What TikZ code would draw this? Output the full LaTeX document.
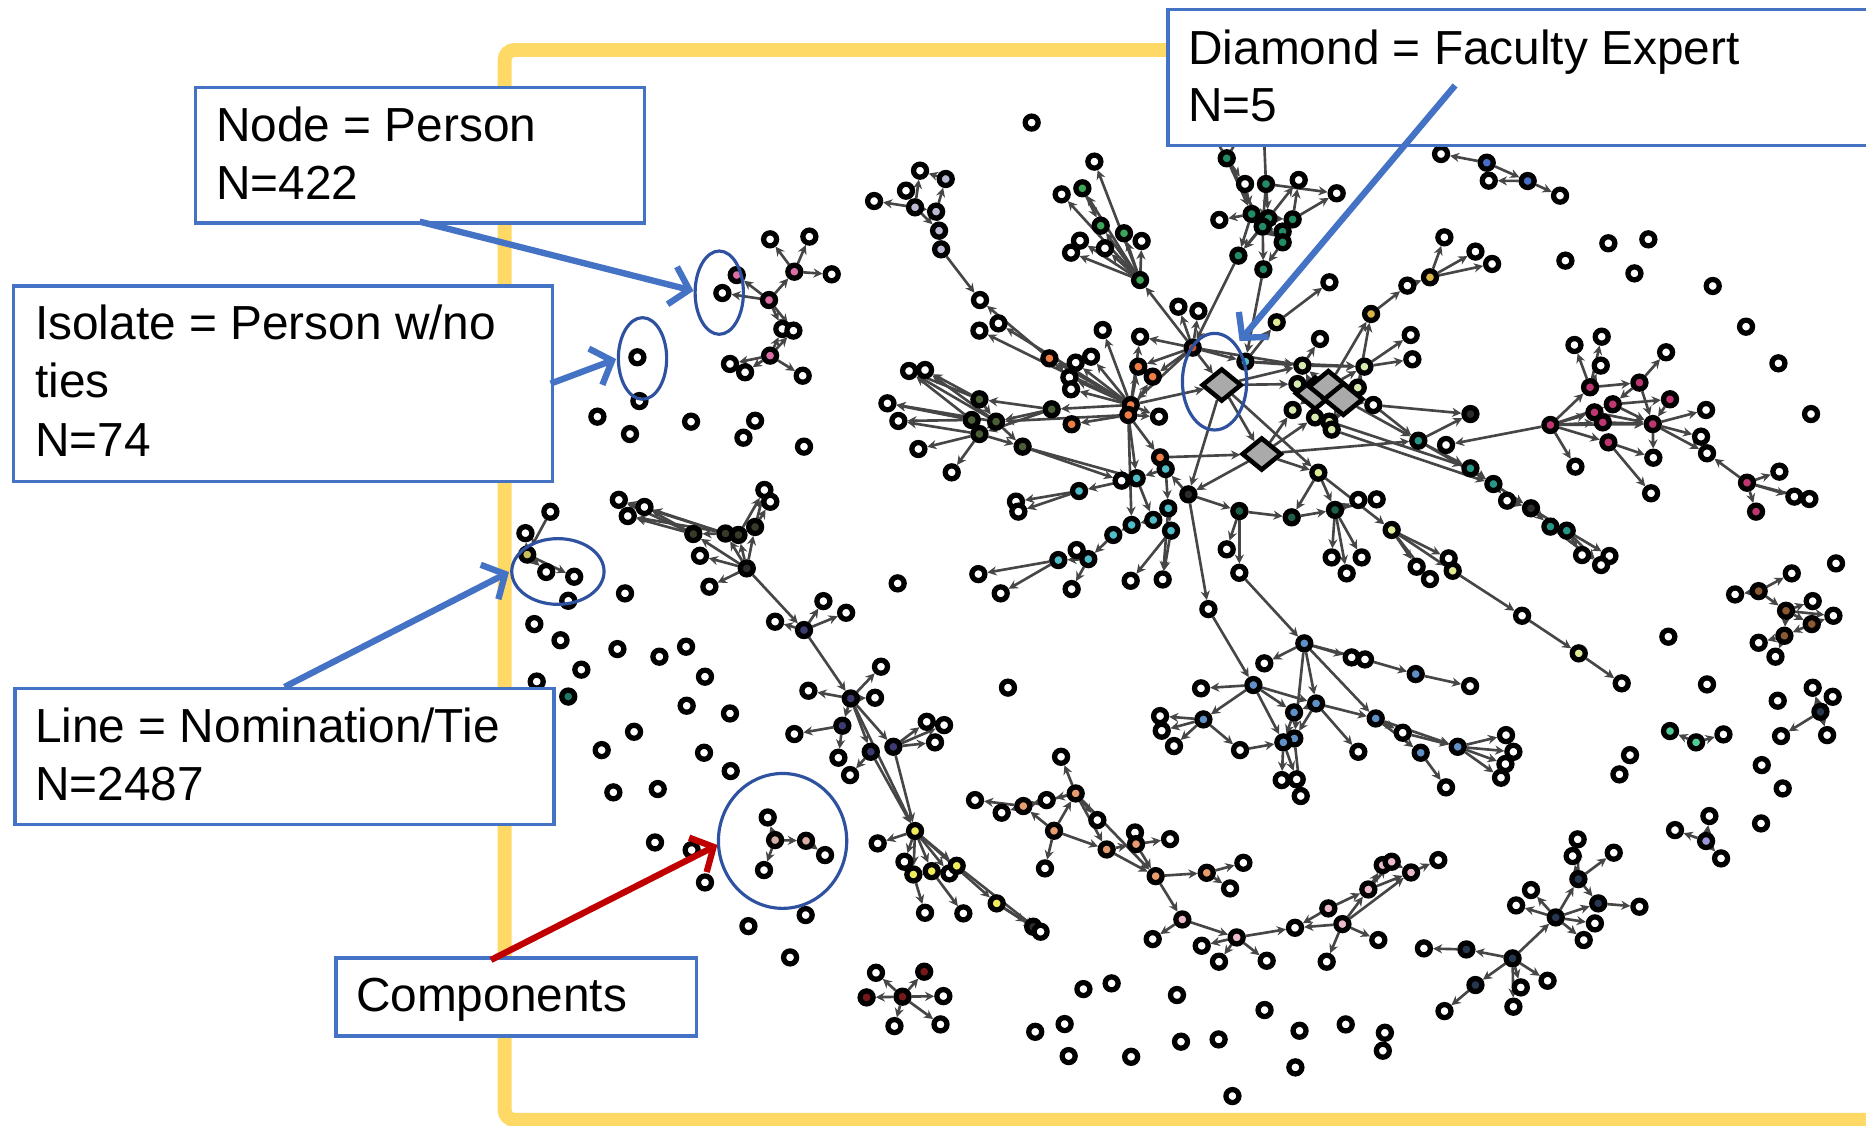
\documentclass[tikz,border=0pt]{standalone}
\usepackage{fontspec}
\setmainfont{Liberation Sans}
\usetikzlibrary{arrows.meta,shapes.geometric}
\pgfdeclarelayer{ties}
\pgfsetlayers{ties,main}
\definecolor{frameyellow}{RGB}{255,217,102}
\definecolor{boxblue}{RGB}{68,114,196}
\definecolor{ringblue}{RGB}{47,82,160}
\definecolor{arrowred}{RGB}{192,0,0}
\definecolor{edgegray}{RGB}{70,70,70}
\definecolor{diagray}{RGB}{170,170,170}
\definecolor{cPink}{RGB}{220,110,165}
\definecolor{cLav}{RGB}{185,185,210}
\definecolor{cOlive}{RGB}{75,95,55}
\definecolor{cGreen}{RGB}{60,165,90}
\definecolor{cTealG}{RGB}{35,140,100}
\definecolor{cOrRed}{RGB}{210,80,45}
\definecolor{cOrange}{RGB}{238,125,70}
\definecolor{cCyan}{RGB}{80,190,200}
\definecolor{cLGreen}{RGB}{215,235,175}
\definecolor{cMustard}{RGB}{215,180,70}
\definecolor{cLYellow}{RGB}{225,235,150}
\definecolor{cDGreen}{RGB}{30,95,75}
\definecolor{cBlue}{RGB}{70,110,200}
\definecolor{cMag}{RGB}{190,55,115}
\definecolor{cTeal}{RGB}{40,150,135}
\definecolor{cNavy}{RGB}{60,60,115}
\definecolor{cNavyB}{RGB}{40,55,80}
\definecolor{cSteel}{RGB}{95,145,200}
\definecolor{cLOrange}{RGB}{232,155,110}
\definecolor{cLPink}{RGB}{235,185,200}
\definecolor{cDRed}{RGB}{120,25,25}
\definecolor{cBrown}{RGB}{140,90,50}
\definecolor{cMint}{RGB}{80,205,150}
\definecolor{cLilac}{RGB}{155,150,215}
\definecolor{cYellow}{RGB}{240,235,90}
\definecolor{cTan}{RGB}{215,175,165}
\definecolor{cDark}{RGB}{45,45,45}
\definecolor{cDOlive}{RGB}{55,60,40}
\definecolor{cKhaki}{RGB}{200,190,90}
\definecolor{cDTeal}{RGB}{30,120,100}
\begin{document}
\begin{tikzpicture}[x=0.0119cm, y=-0.0119cm,
  pnode/.style={circle, draw=black, line width=1.5pt, inner sep=0pt, minimum size=0.13cm},
  dia/.style={diamond, draw=black, line width=1.3pt, fill=diagray, inner sep=0pt, minimum width=0.4cm, minimum height=0.33cm},
  tieline/.style={draw=edgegray, line width=0.75pt, -{Stealth[length=2.6pt,width=2.6pt]}},
  plainline/.style={draw=edgegray, line width=0.75pt},
  ring/.style={ellipse, draw=ringblue, line width=0.9pt, inner sep=0pt},
  lbox/.style={draw=boxblue, line width=1pt, fill=white, inner sep=0pt, anchor=north west},
  lbl/.style={anchor=base west, inner sep=0pt, font=\fontsize{13.6}{16}\selectfont},
  pointer/.style={line width=1.8pt, -{Straight Barb[length=5pt,width=11pt]}},
  yframe/.style={draw=frameyellow, line width=0.14cm, rounded corners=0.1cm}
]
\useasboundingbox (0,0) rectangle (1568,946);
\clip (0,0) rectangle (1568,946);

% ---------- persons (nodes) ----------
% left components
\foreach \n/\x/\y/\c in {p1/619.1/231.1/cPink, p2/646.2/252.1/cPink, p3/667.5/228.3/cPink, p4/647.1/298.8/cPink,
  pa/647.1/201.1/white, pb/680.1/198.8/white, pc/698.9/230.5/white, pd/607.0/246.2/white, pe/657.4/276.4/white,
  pf/666.7/277.8/white, pg/613.4/305.8/white, ph/626.1/312.8/white, pj/674.5/315.7/white,
  lk0/443/466/cKhaki, la/462.5/430/white, lb/441.5/448/white, lc/459/480.6/white, ld/482.5/484.6/white,
  dwa/520/420/white, dwb/541.5/426/white, dwc/527.5/433.6/white, dwd/642.3/411.7/white, dwe/647.3/421.6/white,
  dk1/582.6/448.7/cDOlive, dk2/609.6/448.3/cDOlive, dk3/620.5/449.5/cDOlive, dk4/634.5/442.8/cDOlive,
  dk5/627.5/477.6/cDark, dwf/588.2/467/white, dwg/596.1/493/white,
  n1/675.6/529.4/cNavy, na/691.9/505.1/white, nb/711/514.9/white, nc/651.3/522.4/white,
  n2/714.9/586.9/cNavy, nd/740.3/560.2/white, ne/679.3/580.4/white, nf/735.3/586.3/white,
  n3/707.8/609.8/cNavy, ng/667.5/616.8/white, nh/704.5/636.7/white,
  n4/731.7/631.7/cNavy, n5/750.7/627.5/cNavy, ni/778.7/606.5/white, nj/793.3/609.3/white, nk/785.7/623.8/white, nl/714.3/651.3/white,
  y1/768.9/698.3/cYellow, ya/737.5/708.7/white, yb/760/724.1/white, y2/767.5/734.8/cYellow, y3/782.9/732/cYellow,
  yc/797.8/733.9/white, y4/803.9/727.5/cYellow, y5/837.5/759.1/cYellow, yd/777.3/767/white, ye/809.5/767.5/white,
  yf/868.2/778.7/cDark, yg/874.4/782.9/white,
  cwa/645.1/686.9/white, cc1/651.3/705.9/cTan, cc2/677.3/706.5/cTan, cwb/693.3/718.5/white, cwc/642/731.1/white,
  dra/736.1/817.4/white, dr1/776.6/816.5/cDRed, dr2/728.2/838.1/cDRed, drh/758.4/837.5/cDRed,
  drb/792.7/837/white, drc/751.6/862.2/white, drd/790.3/860.8/white}
  \node[pnode, fill=\c] (\n) at (\x,\y) {};

% central component: left side
\foreach \n/\x/\y/\c in {lva/773.1/143.4/white, lv1/794.7/150.4/cLav, lvb/761.3/160.2/white, lvc/734.5/168.9/white,
  lv2/768.9/174.2/cLav, lv3/786.6/177.8/cLav, lv4/789.1/193.8/cLav, lv5/790.8/209.5/cLav,
  lvd/823.5/252.1/white, lve/839/271.7/white, lvf/823/277.8/white,
  ola/763.9/311.7/white, olb/777.3/310.9/white, olc/745.7/338.9/white, old/754.9/353.7/white, ole/771.7/377.3/white, olf/799.7/396.9/white,
  ol1/823/335.5/cOlive, ol2/816.5/352.9/cOlive, ol3/837/354.3/cOlive, ol4/823/364.7/cOlive, ol5/883.7/343.9/cOlive, ol6/859.3/375.3/cOlive,
  gwa/919.6/135.8/white, g1/909.5/158.2/cGreen, gwb/892.1/163.3/white, g2/924.9/189.6/cGreen, g3/944.5/196/cGreen,
  gwc/907.5/202.2/white, gwd/900/212.3/white, gwe/928.5/208.6/white, gwf/959.3/202.5/white, h1/958/235.3/cGreen,
  tg1/1030.8/133/cTealG, tga/1046.2/154.6/white, tg2/1063.8/154.6/cTealG, tgb/1091.3/151.2/white, tgc/1123.2/162.4/white,
  tgd/1024.6/184.8/white, tg3/1051.8/179.8/cTealG, tg4/1065.8/183.4/cTealG, tg5/1086.2/184.3/cTealG, tg6/1061/190.4/cTealG,
  tg7/1077.8/194.6/cTealG, tg8/1077.8/203.6/cTealG, tg9/1040.6/214.8/cTealG, tg10/1061.6/226.3/cTealG,
  O/1002.2/292.1/cOrRed, owa/990.2/257.7/white, owb/1007/261.3/white, owc/926.6/277.3/white, owd/958/282.9/white,
  or1/881.8/301.1/cOrange, owe/903.9/304.7/white, owf/916.8/299.7/white, or2/956.5/308.1/cOrange, or3/968.6/316.5/cOrange,
  owg/898.6/317.1/white, owh/900/327.1/white, te1/1046.5/303.9/cCyan, o2a/950.1/340.3/cOrange, o2b/948.1/348.7/cOrange,
  or4/900.5/356.5/cOrange, owi/973.9/350.1/white, or5/974.8/384.3/cOrange}
  \node[pnode, fill=\c] (\n) at (\x,\y) {};

% central component: right side
\foreach \n/\x/\y/\c in {lg1/1094.4/307.2/cLGreen, lg2/1146.5/308.1/cLGreen, lg3/1090.2/322.7/cLGreen, lg4/1140.9/325.7/cLGreen,
  lgw/1154/340.3/white, lg5/1086.2/344.5/cLGreen, lg6/1105/350.7/cLGreen, lg7/1117/354.3/cLGreen, lg8/1119/361/cLGreen,
  ly1/1072.8/270.8/cLYellow, lyw/1117.1/237.2/white, ye1/1152.1/263.8/cMustard, yw1/1182.6/240/white, ye2/1201.6/233/cMustard,
  yw2/1109.2/284.8/white, yw3/1185.4/281.5/white, yw4/1186.8/301.9/white,
  ryw1/1213.7/199.4/white, ryw2/1239.8/211.4/white, ryw3/1253.8/221.8/white,
  tr1/1191.8/370.3/cTeal, trw/1215.1/373.9/white, blk/1235.6/347.9/cDark, tca/1235.6/393.5/cTeal, tcb/1254.9/406.7/cTeal,
  tcw/1266.4/420.7/white, tcd/1286.5/427.1/cDark, tcc/1302.8/442.5/cTeal, tce/1316.5/445.9/cTeal,
  tcw2/1329.4/466.4/white, tcw3/1352.4/467.2/white, tcw4/1345.4/474.8/white,
  ly2/1107.8/397.2/cLYellow, ly3/1169.4/445.3/cLYellow, lyw2/1217.3/469.2/white, ly4/1220.7/479.6/cLYellow,
  lyw3/1279/517.4/white, ly5/1326.6/549/cLYellow, lyw4/1362.7/574.2/white,
  dk0/998.6/415.4/cDark, dg1/1041.4/429.4/cDGreen, dg2/1085.4/434.7/cDGreen, dg3/1121.8/428.5/cDGreen,
  dgwa/1141.4/420.1/white, dgwb/1156.8/419.6/white, dgwc/1030.8/461.6/white, dgwd/1041.4/481.3/white,
  dgwe/1119/468.4/white, dgwf/1131.6/481.8/white, dgwg/1144.2/468.4/white, dgwh/1190.4/476.2/white, dgwi/1201.6/486.6/white,
  tc1/979.5/394.1/cCyan, tw1/942.5/403.9/white, tc0/955.1/401.9/cCyan, tc2/906.7/412.6/cCyan,
  twa/853.7/421.5/white, twb/855.7/429.9/white, tc3/981.7/427.1/cCyan, tc4/969.1/436.9/cCyan, tc5/950.9/441.1/cCyan,
  tc6/984/445.9/cCyan, tc7/935.5/449.5/cCyan, tc8/889.3/470.6/cCyan, tc9/914.5/469.8/cCyan,
  tcwa/904.7/462.2/white, tcwb/900.5/495/white, tcwc/950.1/488/white, tcwd/977/486.9/white, tcwe/822.1/482.4/white, tcwf/840.9/498.6/white}
  \node[pnode, fill=\c] (\n) at (\x,\y) {};

% lower components
\foreach \n/\x/\y/\c in {bw0/1015.4/511.8/white, bl1/1053.2/575.6/cSteel, bl2/1096/540.6/cSteel, bwa/1062.4/557.4/white,
  bwb/1135.8/552.4/white, bwc/1147/554.1/white, bl3/1189.6/566.4/cSteel, bwd/1235.3/576.5/white, bwe/1009.2/578.4/white,
  bl4/1105.9/591.1/cSteel, bl5/1087.4/598.6/cSteel, bl6/1011.2/604.5/cSteel, bwf/974.8/601.7/white, bwg/976.2/614/white,
  bwh/986.5/626.9/white, bwi/1042/630.3/white, bl7/1087.6/620.5/cSteel, bl8/1078.4/623.8/cSteel, bwj/1141.4/631.7/white,
  bl9/1156/603.7/cSteel, bwk/1178.7/615.7/white, bl10/1193.8/632.5/cSteel, bwl/1077/655.5/white, bwm/1089.6/654.9/white,
  bwn/1093/668.9/white, bl11/1224.9/627.5/cSteel, bwo/1265.5/617.7/white, bwp/1271.7/631.7/white, bwq/1265/642/white,
  bwr/1261.3/653.5/white, bws/1215.1/661.6/white,
  lwa/819.3/672.3/white, lwb/841.7/682.9/white, lo1/859.9/677.3/cLOrange, lwc/879.5/672.3/white, lwd/891.6/635.9/white,
  lo2/903.9/666.7/cLOrange, lo3/885.7/698.1/cLOrange, lwe/878.1/729.7/white, lwf/922.1/689.1/white, lo4/929.9/713.8/cLOrange,
  lwg/953.7/699.5/white, lo5/954.6/709.3/cLOrange, lwh/983.2/705.1/white, lo6/971.1/736.2/cLOrange, lo7/1014/733.4/cLOrange,
  lwi/1044.8/725/white, lwj/1033.6/746.5/white,
  pk1/993.5/772.6/cLPink, pka/968.6/789.1/white, pk2/1039.2/787.7/cLPink, pkb/1009.8/794.7/white, pkc/1024.3/808.1/white,
  pkd/1064.4/807.3/white, pke/1088.2/779.6/white, pk3/1116.2/763.3/cLPink, pk4/1128/776.5/cLPink, pkf/1114.8/808.1/white,
  pkg/1158.2/789.9/white, pk5/1149.8/747.4/cLPink, pk6/1161.9/726.9/cLPink, pk7/1169.4/724.1/cLPink, pk8/1185.7/733.1/cLPink,
  pkh/1208.6/722.7/white,
  nwa/1196.5/796.9/white, nv1/1232.2/797.8/cNavyB, nv2/1271/805.3/cNavyB, nv3/1239.8/827.7/cNavyB, nwb/1213.8/849.6/white,
  nwc/1277.9/829.7/white, nwd/1300.4/824.1/white, nwe/1271.7/845.9/white, nv4/1307.3/770.9/cNavyB, nwf/1274/760.8/white,
  nwg/1340.2/775.9/white, nwh/1330.8/789.9/white, nv5/1343/759.1/cNavyB, nwi/1377.6/761.9/white, nv6/1326.3/738.7/cNavyB,
  nwj/1321.5/719.3/white, nwk/1325.7/705.3/white, nwl/1356/716.5/white, nwm/1286.5/747.9/white}
  \node[pnode, fill=\c] (\n) at (\x,\y) {};

% right-hand components
\foreach \n/\x/\y/\c in {mwa/1323/289.9/white, mwb/1345.9/282.9/white, mwc/1345.1/307.2/white, mwd/1400/296/white,
  mg1/1336.1/325.4/cMag, mg2/1377.6/321.5/cMag, mg3/1403.3/335.5/cMag, mg4/1355.2/339.7/cMag, mg5/1339.8/346.5/cMag,
  mg6/1346.8/354.9/cMag, mgh/1302.8/357.1/cMag, mg7/1388.8/356.3/cMag, mwe/1433.6/344.5/white, mwf/1429.4/366.9/white,
  mwg/1434.4/380.9/white, mg8/1351.5/371.7/cMag, mwh/1323.8/392.1/white, mwi/1389.3/384.6/white, mwj/1387.4/414.5/white,
  mg9/1468/405.6/cMag, mwk/1495.2/396.3/white, mwl/1507.8/417.3/white, mwm/1520.4/419.3/white, mg10/1475.6/429.9/cMag,
  bsa/1210.9/129.4/white, bs1/1249.3/136.7/cBlue, bsb/1251/151.8/white, bs2/1283.7/152.1/cBlue, bsc/1310.9/164.4/white,
  br1/1477.8/496.7/cBrown, bra/1505.6/481.8/white, brb/1458/499.5/white, br2/1500.8/513.2/cBrown, brc/1523.2/505.1/white,
  br3/1522.4/524.4/cBrown, brd/1540.6/517.4/white, br4/1499.4/534.2/cBrown, bre/1477.8/540.1/white, brf/1491.9/551.8/white,
  ns1/1529.7/598.1/cNavyB, nsa/1523.2/577.9/white, nsb/1540/585.5/white, nsc/1496.6/618.5/white, nsd/1535.3/617.7/white,
  mt1/1403.3/614.3/cMint, mt2/1425.2/623.8/cMint, mtw/1448.2/617.1/white,
  lil/1433.6/706.7/cLilac, lila/1436.4/685.7/white, lilb/1407.5/697.5/white, lilc/1446.2/721.3/white}
  \node[pnode, fill=\c] (\n) at (\x,\y) {};

% faculty experts
\node[dia] (d1) at (1026.6,323.5) {};
\node[dia] (d2) at (1060.2,381.5) {};
\node[dia] (d3) at (1105,330.5) {};
\node[dia] (d4) at (1116.2,324.9) {};
\node[dia] (d5) at (1128.8,335.5) {};

% isolates
\foreach \x/\y [count=\i] in {535.6/300.2, 537.3/337.0, 502/350.1, 529.4/364.7, 580.7/354.3, 634.5/353.5, 624.7/367.8,
  675.6/375.3, 477.5/504.8, 525.2/498.6, 449/524.4, 471/538, 518.8/545.4, 554.1/551.8, 576.5/543.4, 488.5/562.7,
  451/572.7, 592.4/568.6, 577/593, 613.4/599.5, 532.8/614.9, 505.6/630.3, 591.6/632.5, 614/647.9, 515.4/665.8,
  552.7/663, 550.4/707.9, 581.2/714.3, 592.4/741.5, 677/768.9, 628.9/778.2, 663.9/804.5, 754.3/490.2, 866.9/103,
  847/577.8, 1315.4/219, 1351.5/204.4, 1385.1/201.1, 1373.4/229.7, 1439.2/240.3, 1467.2/274.5, 1494.4/305.3,
  1521.8/347.9, 1542.8/473.4, 1401.9/535, 1434.4/575.1, 1493.8/588.8, 1369.7/634.5, 1360.8/650.7, 1480.4/642.9,
  1498/662.5, 1479.8/691.9, 910.4/831.1, 934.1/826.3, 989/836.1, 869.9/867, 894.6/860.5, 898/887.4, 950.5/888,
  992.4/875.3, 1024/873.4, 1062.6/848.7, 1092/866.1, 1130.8/860.8, 1163.7/867.8, 1162/882.9, 1088.5/896.9, 1035.6/921}
  \node[pnode, fill=white] (iso\i) at (\x,\y) {};
\node[pnode, fill=cDTeal] (isoT) at (477.5,585.3) {};

% ends of ties running under the label box
\coordinate (tgu1) at (1016,108);
\coordinate (tgu2) at (1044,110);
\coordinate (tgu3) at (1062,112);

% ---------- frame and ties (drawn beneath the persons) ----------
\begin{pgfonlayer}{ties}
\draw[yframe] (1640,42) -- (424,42) -- (424,941) -- (1640,941);

\foreach \a/\b in {p2/p1, p2/pd, p2/p3, p2/pe, p2/pf, p4/pe, p4/pf, p3/pa, p3/pb, p3/pc, p4/pg, p4/ph, p4/pj,
  la/lk0, lk0/lb, lk0/lc, lk0/ld,
  dk1/dwa, dk1/dwb, dk1/dwc, dk2/dwa, dk2/dwb, dk3/dwc, dk4/dwd, dk4/dwe, dk3/dwd, dk2/dk1, dk3/dk2, dk4/dk3,
  dk5/dk2, dk5/dk3, dk5/dk4, dk5/dwf, dk5/dwg, dk5/dk1,
  dk5/n1, n1/na, n1/nb, n1/nc, n1/n2, n2/nd, n2/ne, n2/nf, n2/n3, n3/ng, n3/nh, n2/n4, n2/n5, n5/ni, n5/nj, n5/nk,
  n4/nl, n4/y1, n5/y1, n2/y1,
  y1/ya, y1/yb, y1/y2, y1/y3, y1/yc, y1/y4, y1/y5, y2/yd, y3/ye, y5/yf, y5/yg, y4/yg,
  cc1/cwa, cc1/cc2, cc2/cwb, cc1/cwc,
  drh/dra, drh/dr1, drh/dr2, drh/drb, drh/drc, drh/drd}
  \draw[tieline] (\a) -- (\b);

\foreach \a/\b in {lv2/lva, lv2/lvb, lv2/lvc, lv1/lva, lv3/lv1, lv2/lv3, lv2/lv4, lv3/lv4, lv4/lv5, lv5/lvd, or1/lvd, o2a/lve, o2a/lvf,
  ol1/ola, ol1/olb, ol2/olc, ol2/old, ol4/ole, ol4/olf, ol3/ola, ol3/olb, ol2/ola, ol1/ol2, ol2/ol4, ol3/ol4, ol1/ol3,
  ol5/ol1, ol5/ol3, ol5/ol4, ol3/ol6, ol4/ol6, o2a/ol5, o2b/ol3, ol6/tw1, ol6/tc0, ol3/olc, ol4/old,
  h1/gwa, h1/g1, h1/gwb, h1/g2, h1/g3, h1/gwc, h1/gwd, h1/gwe, h1/gwf, g1/g2, O/h1,
  tg1/tg3, tg1/tg6, tg1/tga, tg2/tg4, tg2/tg6, tga/tg3, tg3/tg4, tg4/tg5, tg5/tgb, tg5/tgc, tg4/tgb, tg3/tgd, tg6/tg7,
  tg7/tg8, tg4/tg7, tg6/tg9, tg3/tg9, tg4/tg9, tg8/tg10, tg6/tg10, tg9/O, tg10/te1, tg6/tg8, tg2/tgc,
  O/owa, O/owb, O/or2, O/or3, O/te1, O/o2a, O/lg1, O/owd, O/d1,
  o2a/or1, o2a/owe, o2a/owf, o2a/owg, o2a/owh, o2b/or4, o2a/owc, o2a/owd, o2a/or2, o2b/or3, o2a/owi, o2b/owi,
  o2a/d1, o2b/or5, o2a/o2b, or1/owg, or5/tc1, o2b/tc0, or5/d2}
  \draw[tieline] (\a) -- (\b);

\foreach \a/\b in {te1/ly1, ly1/lyw, lg4/ye1, d4/ye1, ye1/yw1, yw1/ye2, ye2/ryw1, ye2/ryw2, ye2/ryw3,
  lg1/yw2, lg2/yw3, lg2/yw4, d4/lg2, d3/lg1, d4/lg1, lg3/d3, lg4/d5, d5/lgw, d3/lg5, d3/lg6, d5/lg7, lg1/lg2,
  d1/lg3, te1/lg1, te1/lg2, lg4/lg2, d5/lg8, d1/lg1, d1/d2, d2/lg5, d2/lg6,
  d5/tr1, lgw/tr1, d2/tr1, mgh/trw, tr1/blk, lgw/blk, tr1/tca, lg7/tca, tca/tcb, tr1/tcb, tcb/tcw, tcw/tcd, tcb/tcd,
  tcd/tcc, tcd/tce, tcc/tce, tce/tcw2, tce/tcw3, tcc/tcw4, tce/tcw4, lg8/tcb,
  d2/ly2, d1/ly2, ly2/ly3, ly3/lyw2, ly3/ly4, ly4/lyw3, lyw3/ly5, ly5/lyw4,
  dk0/dg1, dg1/dg2, dg2/dg3, dg3/dgwa, dg3/dgwb, dg1/dgwc, dg1/dgwd, dg3/dgwe, dg3/dgwf, dg3/dgwg,
  ly2/dg2, ly2/dg3, ly3/dgwh, ly3/dgwi, d1/dk0, d2/dk0, dk0/bw0, dk0/tc1,
  tc1/tc0, tc0/tw1, tc0/tc2, tc2/twa, tc2/twb, tc1/tc3, tc3/tc4, tc4/tc5, tc3/tc6, tc5/tc7, tc7/tc9, tc9/tcwa,
  tc9/tc8, tc8/tcwe, tc8/tcwf, tc9/tcwb, tc6/tcwc, tc6/tcwd, tc3/tcwd, tc0/tc4, o2b/tc5}
  \draw[tieline] (\a) -- (\b);

\foreach \a/\b in {bw0/bl1, dgwd/bl2, bl2/bwa, bl2/bwb, bl2/bwc, bwc/bl3, bl3/bwd, bl2/bl4, bl2/bl7, bl2/bl9,
  bl1/bwe, bl1/bl6, bl1/bl4, bl1/bl5, bl1/bl8, bl6/bwf, bl6/bwg, bl6/bwh, bl6/bwi, bwi/bl8, bl4/bl5, bl4/bl7,
  bl5/bl8, bl4/bwj, bl4/bl9, bl9/bwk, bwk/bl11, bl9/bl11, bl11/bwo, bl11/bwp, bl11/bwq, bl11/bwr, bl9/bl10,
  bl10/bws, bl8/bwl, bl8/bwm, bl7/bwn,
  lo1/lwa, lo1/lwb, lo1/lwc, lo2/lwc, lo2/lwd, lo2/lo1, lo3/lo1, lo3/lo2, lo3/lwe, lo2/lwf, lo2/lo4, lo3/lo4,
  lo4/lo5, lo5/lwg, lo5/lwh, lo2/lo6, lo4/lo6, lo5/lo6, lo6/lo7, lo7/lwi, lo7/lwj, lo6/pk1,
  pk1/pka, pk1/pk2, pk2/pkb, pk2/pkc, pk2/pkd, pk2/pke, pk4/pke, pk3/pke, pk3/pk5, pk4/pk5, pk4/pkf, pk4/pkg,
  pk5/pk6, pk5/pk7, pk5/pk8, pk8/pkh, pk7/pk8, pk4/pk8,
  nv1/nwa, nv2/nv1, nv2/nv3, nv3/nwb, nv2/nwc, nv2/nwd, nv2/nwe, nv2/nv4, nv4/nwf, nv4/nwm, nv4/nwg, nv4/nwh,
  nv4/nv5, nv5/nwi, nv4/nv6, nv6/nwj, nv6/nwl, nv6/nv5, nv6/nwk,
  mg1/mwa, mg1/mwb, mg1/mwc, mg2/mwd, mg1/mg2, mg2/mg4, mg4/mg3, mg2/mg7, mgh/mg1, mgh/mg4, mgh/mg5, mgh/mg6,
  mgh/mg7, mgh/mg8, mgh/mwh, mg5/mg7, mg6/mg7, mg4/mg7, mg7/mwe, mg7/mwf, mg7/mwg, mg7/mwi, mg8/mwi, mg8/mwj,
  mg9/mwg, mg9/mwk, mg9/mwl, mg9/mwm, mg9/mg10, mg3/mg7,
  bs1/bsa, bs1/bs2, bs2/bsb, bs2/bsc, bs1/bsb,
  br1/bra, br1/brb, br1/br2, br2/brc, br2/br3, br3/brd, br2/brd, br2/br4, br4/bre, br4/brf, br3/br4,
  ns1/nsa, ns1/nsb, ns1/nsc, ns1/nsd, mt2/mt1, mt2/mtw, lil/lila, lil/lilb, lil/lilc}
  \draw[tieline] (\a) -- (\b);

\foreach \a/\b in {tg1/tgu1, tg1/tgu2, tg2/tgu3}
  \draw[plainline] (\a) -- (\b);
\end{pgfonlayer}

% ---------- circled examples ----------
\node[ring, minimum width=0.483cm, minimum height=0.833cm] (ringNode) at (604.4,245.9) {};
\node[ring, minimum width=0.483cm, minimum height=0.816cm] (ringIso) at (539.9,301.2) {};
\node[ring, minimum width=0.923cm, minimum height=0.657cm] (ringTie) at (468.8,480.2) {};
\node[ring, minimum width=1.283cm, minimum height=1.349cm] (ringComp) at (657.6,706.6) {};
\node[ring, minimum width=0.643cm, minimum height=0.966cm] (ringDia) at (1020.6,320.7) {};

% ---------- legend boxes ----------
\node[lbox, minimum width=4.486cm, minimum height=1.357cm] (nodebox) at (163,72) {};
\node[lbl] (nodeA) at (181,119.2) {Node = Person};
\node[lbl] (nodeB) at (181,167.5) {N=422};

\node[lbox, minimum width=5.391cm, minimum height=1.952cm] (isobox) at (10,239) {};
\node[lbl] (isoA) at (29,285.1) {Isolate = Person w/no};
\node[lbl] (isoB) at (29,334.3) {ties};
\node[lbl] (isoC) at (29,383.2) {N=74};

\node[lbox, minimum width=5.391cm, minimum height=1.357cm] (tiebox) at (11,577.2) {};
\node[lbl] (tieA) at (29,624) {Line = Nomination/Tie};
\node[lbl] (tieB) at (29,672.3) {N=2487};

\node[lbox, minimum width=3.606cm, minimum height=0.779cm] (compbox) at (281,803.5) {};
\node[lbl] (compA) at (298.6,850.3) {Components};

\node[lbox, minimum width=7.3cm, minimum height=1.357cm] (diabox) at (980,6.6) {};
\node[lbl] (diaA) at (998,54.3) {Diamond = Faculty Expert};
\node[lbl] (diaB) at (998,102) {N=5};

% ---------- pointers ----------
\coordinate (pNs) at (352.6,186.2);   \coordinate (pNe) at (582.7,244.4);
\coordinate (pIs) at (462.7,322.3);   \coordinate (pIe) at (517.7,301.7);
\coordinate (pTs) at (239.1,577.2);   \coordinate (pTe) at (427.7,480.7);
\coordinate (pCs) at (412.6,806.6);   \coordinate (pCe) at (602.8,710);
\coordinate (pDs) at (1222.7,71.8);   \coordinate (pDe) at (1041.6,286.6);
\draw[pointer, draw=boxblue] (pNs) -- (pNe);
\draw[pointer, draw=boxblue] (pIs) -- (pIe);
\draw[pointer, draw=boxblue] (pTs) -- (pTe);
\draw[pointer, draw=arrowred] (pCs) -- (pCe);
\draw[pointer, draw=boxblue] (pDs) -- (pDe);
\end{tikzpicture}
\end{document}
